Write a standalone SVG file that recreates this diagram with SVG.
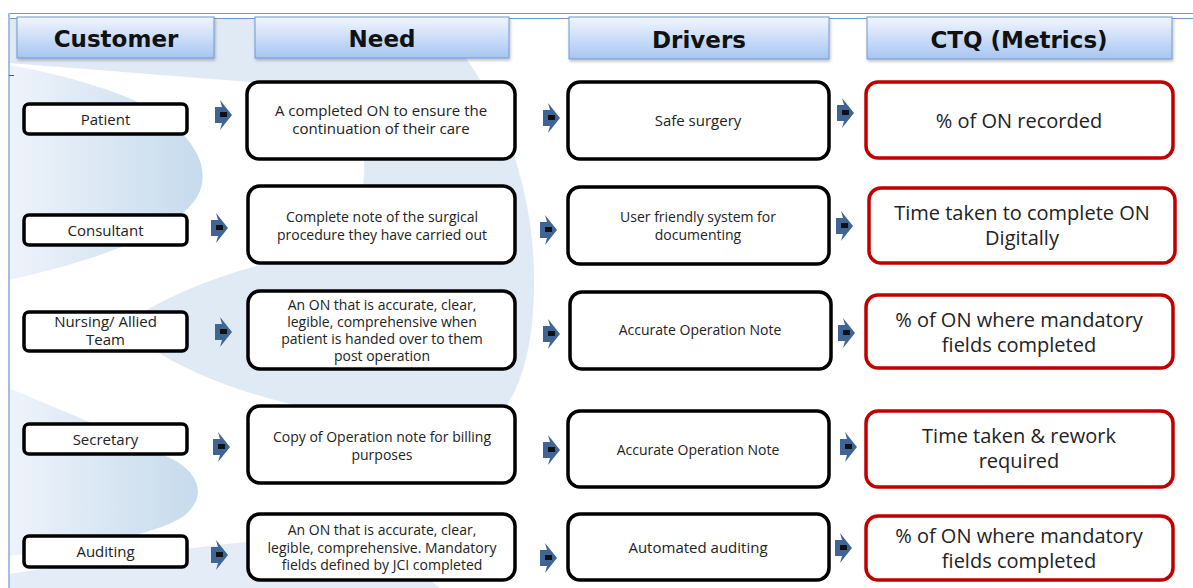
<svg xmlns="http://www.w3.org/2000/svg" width="1193" height="588" viewBox="0 0 1193 588">
  <defs>
    <linearGradient id="hdrFill" x1="0" y1="0" x2="0" y2="1">
      <stop offset="0" stop-color="#f1f6fe"/>
      <stop offset="1" stop-color="#a7c5f2"/>
    </linearGradient>
    <linearGradient id="tongueFill" x1="0" y1="0" x2="1" y2="0">
      <stop offset="0" stop-color="#eef3fa"/>
      <stop offset="1" stop-color="#c6dbed"/>
    </linearGradient>
    <filter id="hdrShadow" x="-5%" y="-20%" width="110%" height="150%">
      <feDropShadow dx="1" dy="2" stdDeviation="1.5" flood-color="#000" flood-opacity="0.25"/>
    </filter>
    <g id="flowArrow">
      <path d="M0,-8 L7,-8 L5,-15 L17,0 L5,15 L7,8 L0,8 Z" fill="#3f6597"/>
      <rect x="5" y="-3" width="7" height="5" fill="#111"/>
    </g>
    <style>
      .hdr { fill: url(#hdrFill); stroke: #6d99d6; stroke-width: 1; filter: url(#hdrShadow); }
      .hdrText { font-family: "DejaVu Sans", sans-serif; font-weight: bold; font-size: 23px; fill: #111; text-anchor: middle; }
      .cust { fill: #fff; stroke: #000; stroke-width: 3.5; }
      .blk { fill: #fff; stroke: #000; stroke-width: 3.5; }
      .ctq { fill: #fff; stroke: #c00000; stroke-width: 3.5; }
      .t { font-family: "Open Sans", "Noto Sans", sans-serif; fill: #222; text-anchor: middle; }
      .tc { font-size: 15px; }
      .tn { font-size: 14px; }
      .tl { font-size: 15px; }
      .tm { font-size: 20px; }
      .frame { fill: none; stroke: #7096d0; stroke-width: 1; }
    </style>
  </defs>

  <rect width="1193" height="588" fill="#fff"/>

  <!-- decorative background swirls -->
  <g id="background">
    <path d="M300,19 L430,19 C480,60 525,150 533,250 C538,330 525,385 500,415 C470,440 400,430 330,412 C250,398 165,368 123,325 C170,292 240,266 300,257 C345,245 367,205 364,160 C360,120 330,95 280,85 L250,82 L9,63 L9,19 Z" fill="#e0eaf5"/>
    <path d="M9,65 C60,74 130,92 165,118 C200,145 212,175 195,200 C170,235 90,262 9,280 Z" fill="url(#tongueFill)"/>
    <path d="M9,388 C60,410 130,438 170,458 C200,472 207,497 185,515 C165,530 120,542 9,556 Z" fill="url(#tongueFill)"/>
    <path d="M9,574 C100,560 200,545 300,537 C340,534 380,545 410,565 L440,588 L9,588 Z" fill="#e4edf7"/>
  </g>

  <!-- page frame -->
  <g id="frame">
    <line class="frame" x1="8" y1="13.5" x2="1193" y2="13.5"/>
    <line class="frame" x1="8" y1="18.5" x2="1193" y2="18.5"/>
    <line x1="9" y1="13" x2="9" y2="588" stroke="#a3bde6" stroke-width="2"/>
    <line x1="9" y1="75.5" x2="14" y2="75.5" stroke="#555" stroke-width="1"/>
  </g>

  <!-- column headers -->
  <g id="hdr-customer">
    <rect class="hdr" x="17" y="17" width="197" height="41"/>
    <text class="hdrText" x="116" y="47">Customer</text>
  </g>
  <g id="hdr-need">
    <rect class="hdr" x="255" y="17" width="254" height="41"/>
    <text class="hdrText" x="382" y="47">Need</text>
  </g>
  <g id="hdr-drivers">
    <rect class="hdr" x="569" y="17" width="260" height="42"/>
    <text class="hdrText" x="699" y="48">Drivers</text>
  </g>
  <g id="hdr-ctq">
    <rect class="hdr" x="867" y="17" width="305" height="42"/>
    <text class="hdrText" x="1019" y="48">CTQ (Metrics)</text>
  </g>

  <!-- customer column -->
  <g id="cust-patient">
    <rect class="cust" x="24" y="104" width="163" height="30" rx="5"/>
    <text class="t tc" x="105.5" y="124.5">Patient</text>
  </g>
  <g id="cust-consultant">
    <rect class="cust" x="24" y="215" width="163" height="30" rx="5"/>
    <text class="t tc" x="105.5" y="235.5">Consultant</text>
  </g>
  <g id="cust-nursing">
    <rect class="cust" x="24" y="312" width="163" height="39" rx="5"/>
    <text class="t tc" x="105.5" y="327">Nursing/ Allied</text>
    <text class="t tc" x="105.5" y="345">Team</text>
  </g>
  <g id="cust-secretary">
    <rect class="cust" x="24" y="424" width="163" height="30" rx="5"/>
    <text class="t tc" x="105.5" y="444.5">Secretary</text>
  </g>
  <g id="cust-auditing">
    <rect class="cust" x="24" y="536" width="163" height="31" rx="5"/>
    <text class="t tc" x="105.5" y="556.5">Auditing</text>
  </g>

  <!-- need column -->
  <g id="need-1">
    <rect class="blk" x="247" y="82" width="268" height="77" rx="12"/>
    <text class="t tl" x="381" y="116">A completed ON to ensure the</text>
    <text class="t tl" x="381" y="134">continuation of their care</text>
  </g>
  <g id="need-2">
    <rect class="blk" x="248" y="186" width="267" height="77" rx="12"/>
    <text class="t tn" x="382" y="222">Complete note of the surgical</text>
    <text class="t tn" x="382" y="240">procedure they have carried out</text>
  </g>
  <g id="need-3">
    <rect class="blk" x="248" y="291" width="267" height="78" rx="12"/>
    <text class="t tn" x="382" y="310">An ON that is accurate, clear,</text>
    <text class="t tn" x="382" y="327">legible, comprehensive when</text>
    <text class="t tn" x="382" y="344">patient is handed over to them</text>
    <text class="t tn" x="382" y="361">post operation</text>
  </g>
  <g id="need-4">
    <rect class="blk" x="248" y="406" width="267" height="77" rx="12"/>
    <text class="t tn" x="382" y="442">Copy of Operation note for billing</text>
    <text class="t tn" x="382" y="460">purposes</text>
  </g>
  <g id="need-5">
    <rect class="blk" x="248" y="514" width="267" height="66" rx="12"/>
    <text class="t tn" x="382" y="535">An ON that is accurate, clear,</text>
    <text class="t tn" x="382" y="553">legible, comprehensive. Mandatory</text>
    <text class="t tn" x="382" y="570">fields defined by JCI completed</text>
  </g>

  <!-- drivers column -->
  <g id="drv-1">
    <rect class="blk" x="568" y="82" width="261" height="77" rx="12"/>
    <text class="t tl" x="698" y="126">Safe surgery</text>
  </g>
  <g id="drv-2">
    <rect class="blk" x="568" y="187" width="261" height="77" rx="12"/>
    <text class="t tn" x="698" y="222">User friendly system for</text>
    <text class="t tn" x="698" y="240">documenting</text>
  </g>
  <g id="drv-3">
    <rect class="blk" x="570" y="292" width="261" height="77" rx="12"/>
    <text class="t tn" x="700" y="335">Accurate Operation Note</text>
  </g>
  <g id="drv-4">
    <rect class="blk" x="568" y="411" width="261" height="76" rx="12"/>
    <text class="t tn" x="698" y="455">Accurate Operation Note</text>
  </g>
  <g id="drv-5">
    <rect class="blk" x="568" y="514" width="261" height="66" rx="12"/>
    <text class="t tl" x="698" y="553">Automated auditing</text>
  </g>

  <!-- CTQ column -->
  <g id="ctq-1">
    <rect class="ctq" x="866" y="82" width="307" height="76" rx="12"/>
    <text class="t tm" x="1019" y="128">% of ON recorded</text>
  </g>
  <g id="ctq-2">
    <rect class="ctq" x="869" y="188" width="306" height="75" rx="12"/>
    <text class="t tm" x="1022" y="220">Time taken to complete ON</text>
    <text class="t tm" x="1022" y="245">Digitally</text>
  </g>
  <g id="ctq-3">
    <rect class="ctq" x="866" y="295" width="307" height="73" rx="12"/>
    <text class="t tm" x="1019" y="327">% of ON where mandatory</text>
    <text class="t tm" x="1019" y="352">fields completed</text>
  </g>
  <g id="ctq-4">
    <rect class="ctq" x="866" y="411" width="307" height="76" rx="12"/>
    <text class="t tm" x="1019" y="443">Time taken &amp; rework</text>
    <text class="t tm" x="1019" y="468">required</text>
  </g>
  <g id="ctq-5">
    <rect class="ctq" x="866" y="516" width="307" height="64" rx="12"/>
    <text class="t tm" x="1019" y="543">% of ON where mandatory</text>
    <text class="t tm" x="1019" y="568">fields completed</text>
  </g>

  <!-- connectors between columns -->
  <g id="connectors">
    <use href="#flowArrow" x="215" y="115"/>
    <use href="#flowArrow" x="211" y="228"/>
    <use href="#flowArrow" x="215" y="332"/>
    <use href="#flowArrow" x="213" y="447"/>
    <use href="#flowArrow" x="211" y="555"/>
    <use href="#flowArrow" x="543" y="118"/>
    <use href="#flowArrow" x="540" y="230"/>
    <use href="#flowArrow" x="543" y="334"/>
    <use href="#flowArrow" x="543" y="450"/>
    <use href="#flowArrow" x="540" y="558"/>
    <use href="#flowArrow" x="837" y="113"/>
    <use href="#flowArrow" x="836" y="226"/>
    <use href="#flowArrow" x="838" y="333"/>
    <use href="#flowArrow" x="840" y="447"/>
    <use href="#flowArrow" x="835" y="548"/>
  </g>
</svg>
